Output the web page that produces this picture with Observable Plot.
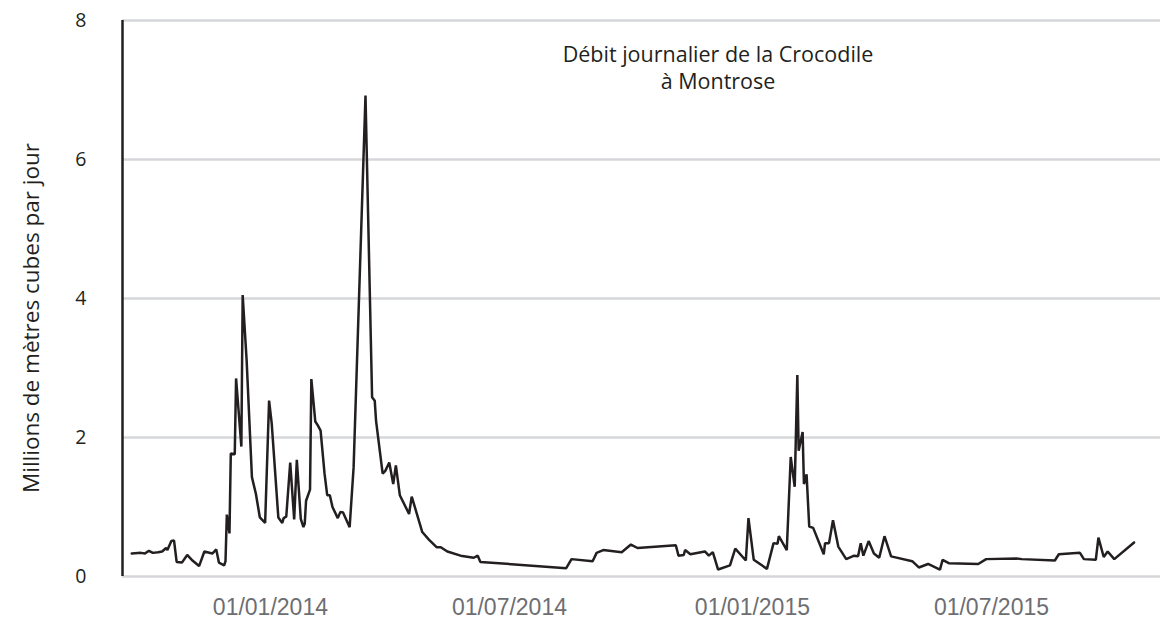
<!DOCTYPE html>
<html>
<head>
<meta charset="utf-8">
<script src="https://cdn.jsdelivr.net/npm/d3@7"></script>
<script src="https://cdn.jsdelivr.net/npm/@observablehq/plot@0.6"></script>
<style>
  html, body { margin: 0; padding: 0; background: #fff; }
  #wrap { position: relative; width: 1162px; height: 621px; overflow: hidden; }
  #title { position: absolute; left: 468px; width: 500px; top: 40px; text-align: center;
           font-family: "Open Sans", Lato, sans-serif; font-size: 21.5px; line-height: 27px; color: #231f20; }
  #ylabel { position: absolute; left: 30px; top: 318px; transform: translate(-50%, -50%) rotate(-90deg);
            white-space: nowrap; font-family: "Open Sans", Lato, sans-serif; font-size: 22.5px; color: #231f20; }
</style>
</head>
<body>
<div id="wrap">
  <div id="chart"></div>
  <div id="title">Débit journalier de la Crocodile<br>à Montrose</div>
  <div id="ylabel">Millions de mètres cubes par jour</div>
</div>
<script>
const dates = [
  "2013-09-18","2013-09-25","2013-09-28","2013-10-01","2013-10-04","2013-10-08","2013-10-11","2013-10-14","2013-10-15","2013-10-18",
  "2013-10-20","2013-10-22","2013-10-26","2013-10-30","2013-11-03","2013-11-08","2013-11-12","2013-11-18","2013-11-21","2013-11-23",
  "2013-11-27","2013-11-28","2013-11-29","2013-12-01","2013-12-02","2013-12-05","2013-12-06","2013-12-10","2013-12-11","2013-12-14",
  "2013-12-18","2013-12-21","2013-12-24","2013-12-28","2013-12-31","2014-01-02","2014-01-07","2014-01-10","2014-01-11","2014-01-13",
  "2014-01-16","2014-01-19","2014-01-21","2014-01-24","2014-01-26","2014-01-27","2014-01-28","2014-01-31","2014-02-01","2014-02-04",
  "2014-02-06","2014-02-08","2014-02-11","2014-02-13","2014-02-15","2014-02-17","2014-02-21","2014-02-23","2014-02-25","2014-03-02",
  "2014-03-05","2014-03-14","2014-03-19","2014-03-21","2014-03-22","2014-03-27","2014-03-29","2014-04-01","2014-04-04","2014-04-06",
  "2014-04-09","2014-04-16","2014-04-18","2014-04-26","2014-05-01","2014-05-07","2014-05-10","2014-05-15","2014-05-25","2014-06-04",
  "2014-06-07","2014-06-09","2014-08-13","2014-08-17","2014-09-02","2014-09-05","2014-09-10","2014-09-24","2014-10-01","2014-10-06",
  "2014-11-04","2014-11-06","2014-11-10","2014-11-11","2014-11-15","2014-11-23","2014-11-26","2014-11-29","2014-12-02","2014-12-06",
  "2014-12-15","2014-12-19","2014-12-27","2014-12-29","2015-01-02","2015-01-12","2015-01-17","2015-01-20","2015-01-21","2015-01-27",
  "2015-01-30","2015-02-02","2015-02-04","2015-02-05","2015-02-08","2015-02-09","2015-02-11","2015-02-13","2015-02-16","2015-02-24",
  "2015-02-25","2015-02-28","2015-03-03","2015-03-07","2015-03-13","2015-03-19","2015-03-22","2015-03-24","2015-03-26","2015-03-30",
  "2015-04-03","2015-04-07","2015-04-11","2015-04-16","2015-05-02","2015-05-07","2015-05-14","2015-05-23","2015-05-25","2015-05-30",
  "2015-06-21","2015-06-27","2015-07-20","2015-07-24","2015-08-18","2015-08-21","2015-09-06","2015-09-09","2015-09-18","2015-09-20",
  "2015-09-24","2015-09-27","2015-10-02","2015-10-17"
];
const flow = [
  0.33,0.34,0.33,0.37,0.34,0.35,0.36,0.41,0.38,0.51,
  0.52,0.21,0.20,0.31,0.23,0.15,0.36,0.33,0.39,0.20,
  0.16,0.22,0.89,0.62,1.77,1.76,2.85,1.87,4.05,3.11,
  1.43,1.19,0.85,0.77,2.53,2.20,0.85,0.77,0.84,0.86,
  1.64,0.82,1.68,0.83,0.71,0.76,1.09,1.25,2.84,2.23,
  2.17,2.10,1.48,1.17,1.17,1.00,0.84,0.93,0.92,0.71,
  1.57,6.92,2.58,2.53,2.24,1.48,1.52,1.64,1.33,1.60,
  1.17,0.90,1.15,0.64,0.53,0.42,0.42,0.36,0.30,0.27,
  0.30,0.21,0.12,0.25,0.22,0.34,0.38,0.35,0.46,0.41,
  0.45,0.30,0.31,0.38,0.32,0.35,0.36,0.30,0.35,0.10,
  0.16,0.40,0.23,0.84,0.24,0.11,0.48,0.47,0.58,0.38,
  1.72,1.29,2.90,1.81,2.08,1.33,1.47,0.72,0.70,0.32,
  0.48,0.48,0.81,0.43,0.25,0.30,0.29,0.48,0.30,0.51,
  0.33,0.27,0.58,0.29,0.22,0.13,0.18,0.10,0.24,0.19,
  0.18,0.25,0.26,0.25,0.23,0.32,0.34,0.25,0.24,0.56,
  0.28,0.36,0.25,0.49
];
const xDomain = ["2013-09-11", "2015-11-06"];
const xTicks = ["2014-01-01", "2014-07-01", "2015-01-01", "2015-07-01"];
const yTicks = [0, 2, 4, 6, 8];

const toDate = d => new Date(d + "T00:00:00Z");
const data = dates.map((d, i) => ({date: toDate(d), value: flow[i]}));
const fmt = d3.utcFormat("%d/%m/%Y");

const chart = Plot.plot({
  width: 1162,
  height: 621,
  marginLeft: 122,
  marginRight: 2,
  marginTop: 20,
  marginBottom: 45,
  style: {fontFamily: "'Open Sans', Lato, sans-serif", background: "#fff"},
  x: {type: "utc", domain: xDomain.map(toDate)},
  y: {domain: [0, 8]},
  marks: [
    Plot.gridY(yTicks, {stroke: "#d5d7da", strokeOpacity: 1, strokeWidth: 2.5}),
    Plot.ruleX([toDate(xDomain[0])], {y1: 0, y2: 8, stroke: "#231f20", strokeWidth: 2.5}),
    Plot.axisY(yTicks, {tickSize: 0, tickPadding: 36, tickFormat: d => String(d), label: null}),
    Plot.axisX(xTicks.map(toDate), {tickSize: 0, tickPadding: 22, tickFormat: fmt, label: null}),
    Plot.lineY(data, {x: "date", y: "value", stroke: "#231f20", strokeWidth: 2.5, strokeLinejoin: "miter"})
  ]
});
document.getElementById("chart").appendChild(chart);

// style tick labels
d3.select(chart).selectAll("text").each(function() {
  const t = this.textContent;
  const s = d3.select(this);
  if (/^\d\d\/\d\d\/\d{4}$/.test(t)) {
    s.style("font-family", "'Liberation Sans', Arial, sans-serif").style("font-size", "23px").style("fill", "#6d6e71");
  } else if (/^\d$/.test(t)) {
    s.style("font-family", "'Open Sans', Lato, sans-serif").style("font-size", "19.5px").style("fill", "#231f20");
  }
});
</script>
</body>
</html>
